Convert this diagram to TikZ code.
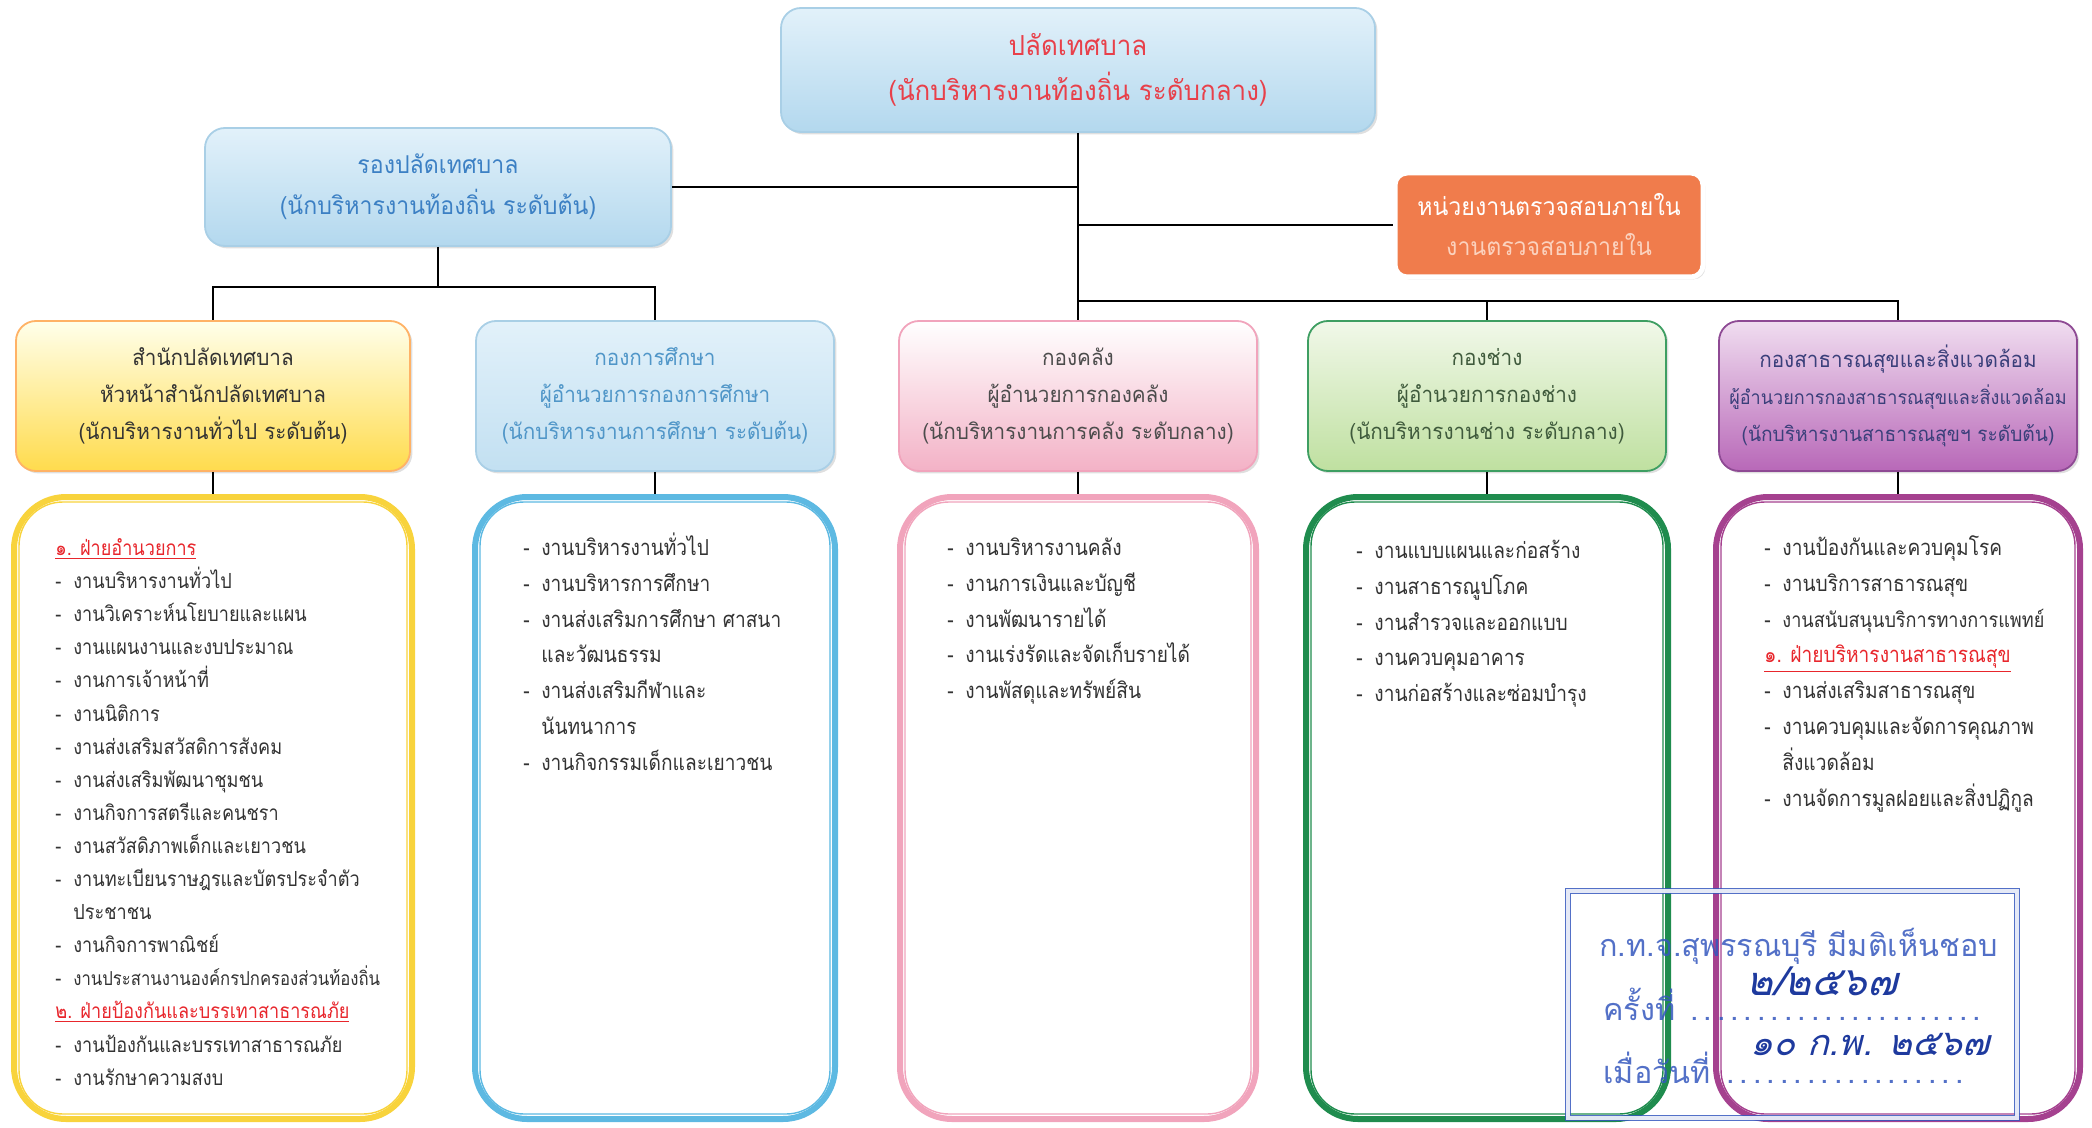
\documentclass[tikz,border=0pt]{standalone}
\usepackage{fontspec}
\usepackage{tikz}
\usetikzlibrary{positioning,shadows}
\newfontfamily\thaifont[Script=Thai,FakeStretch=0.94]{Loma}
\newfontfamily\listfont[Script=Thai,FakeStretch=0.87]{Loma}
\newfontfamily\stampfont[Script=Thai]{Loma}
\newfontfamily\handfont[Script=Thai,FakeSlant=0.25]{Loma}

\definecolor{chiefred}{HTML}{E8404A}
\definecolor{deputyblue}{HTML}{3C80C4}
\definecolor{skytop}{HTML}{E2F1FA}
\definecolor{skybot}{HTML}{B3D8EE}
\definecolor{skyline}{HTML}{A9CFE6}
\definecolor{auditorange}{HTML}{F07C4C}
\definecolor{auditsub}{HTML}{FBD2BE}
\definecolor{listgrey}{HTML}{333333}
\definecolor{headred}{HTML}{E8262C}
\definecolor{stampblue}{HTML}{3558BE}
\definecolor{inkblue}{HTML}{1E3A9E}
\definecolor{frameyellow}{HTML}{F8D33C}
\definecolor{frameblue}{HTML}{5DB9E2}
\definecolor{framepink}{HTML}{F1A4BC}
\definecolor{framegreen}{HTML}{1F8C4E}
\definecolor{framepurple}{HTML}{A5418F}
\definecolor{edublue}{HTML}{5096C8}
\definecolor{greentop}{HTML}{F1F8E9}
\definecolor{greenbot}{HTML}{BFE0A0}
\definecolor{greenline}{HTML}{3E9E62}
\definecolor{greentext}{HTML}{3F5A3C}
\definecolor{plumtop}{HTML}{F0DDF0}
\definecolor{plumbot}{HTML}{B868B8}
\definecolor{plumline}{HTML}{8E4A94}
\definecolor{plumtext}{HTML}{3A3F7A}

\def\dashw{9pt}
\newcommand\itm[1]{\makebox[\dashw][l]{-}#1}
\newcommand\contline[1]{\hspace*{\dashw}#1}
\newcommand\listhead[1]{\textcolor{headred}{\underline{#1}}}

\begin{document}
\begin{tikzpicture}[x=0.5pt, y=-0.5pt, line width=1.4pt, font=\thaifont]
        \tikzstyle{box}=[rectangle, rounded corners=10pt, align=center, inner sep=2pt, line width=0.9pt, drop shadow={opacity=0.25, shadow xshift=1.2pt, shadow yshift=-1.2pt}];
        \tikzstyle{boss}=[box, top color=skytop, bottom color=skybot, draw=skyline];
        \tikzstyle{division}=[box, minimum width=179pt, minimum height=75pt, font=\thaifont\fontsize{11}{18.5}\selectfont];
        \tikzstyle{frame}=[rectangle, rounded corners=26pt, line width=3pt, minimum height=311pt, fill=white];
        \tikzstyle{tasks}=[align=left, anchor=north west, inner sep=0pt, text=listgrey, font=\listfont\fontsize{11}{17.9}\selectfont];
        \tikzstyle{stamp}=[anchor=west, inner sep=0pt, text=stampblue, text opacity=0.85, font=\stampfont\fontsize{15.3}{17}\selectfont];
        \tikzstyle{hand}=[inner sep=0pt, text=inkblue, font=\handfont\fontsize{20}{22}\selectfont];

        \useasboundingbox (0,0) rectangle (2092,1128);

        % top level
        \node[boss, minimum width=297pt, minimum height=62pt, text=chiefred, font=\thaifont\fontsize{13.8}{22.5}\selectfont] (chief) at (1078,70) {ปลัดเทศบาล\\(นักบริหารงานท้องถิ่น ระดับกลาง)};
        \node[boss, minimum width=233pt, minimum height=59pt, text=deputyblue, font=\thaifont\fontsize{12.3}{20.5}\selectfont] (deputy) at (438,187) {รองปลัดเทศบาล\\(นักบริหารงานท้องถิ่น ระดับต้น)};
        \node[box, rounded corners=6pt, fill=auditorange, draw=white, line width=2.5pt, minimum width=154pt, minimum height=52pt, text=white, font=\thaifont\fontsize{12.3}{20}\selectfont] (audit) at (1549,225) {หน่วยงานตรวจสอบภายใน\\\textcolor{auditsub}{งานตรวจสอบภายใน}};

        % divisions
        \node[division, minimum width=197pt, top color=yellow!8, bottom color=yellow!60!orange!70, draw=orange!60, text=listgrey] (div1) at (213,396) {สำนักปลัดเทศบาล\\หัวหน้าสำนักปลัดเทศบาล\\(นักบริหารงานทั่วไป ระดับต้น)};
        \node[division, top color=skytop, bottom color=skybot!80, draw=skyline, text=edublue] (div2) at (655,396) {กองการศึกษา\\ผู้อำนวยการกองการศึกษา\\(นักบริหารงานการศึกษา ระดับต้น)};
        \node[division, top color=white, bottom color=framepink!85, draw=framepink, text=black!70] (div3) at (1078,396) {กองคลัง\\ผู้อำนวยการกองคลัง\\(นักบริหารงานการคลัง ระดับกลาง)};
        \node[division, top color=greentop, bottom color=greenbot, draw=greenline, text=greentext] (div4) at (1487,396) {กองช่าง\\ผู้อำนวยการกองช่าง\\(นักบริหารงานช่าง ระดับกลาง)};
        \node[division, top color=plumtop, bottom color=plumbot, draw=plumline, text=plumtext] (div5) at (1898,396) {กองสาธารณสุขและสิ่งแวดล้อม\\{\fontsize{9.6}{18.5}\selectfont ผู้อำนวยการกองสาธารณสุขและสิ่งแวดล้อม}\\{\fontsize{10.2}{18.5}\selectfont (นักบริหารงานสาธารณสุขฯ ระดับต้น)}};

        % frames under the divisions
        \foreach \i/\x/\w/\c in {1/213/199/frameyellow, 2/655/180/frameblue, 3/1078/178/framepink, 4/1487/181/framegreen, 5/1898/182/framepurple}
        {
            \node[frame, draw=\c, minimum width=\w pt] (frame\i) at (\x,808) {};
            \draw[\c, line width=0.7pt, rounded corners=22pt] ([shift={(8,8)}]frame\i.north west) rectangle ([shift={(-8,-8)}]frame\i.south east);
        }

        % connectors
        \coordinate (bus) at (1078,301);
        \coordinate (dbus) at (438,287);
        \draw (chief.south) -- (div3.north);
        \draw (deputy.east) -- (deputy.east -| chief.south);
        \draw (audit.west) -- (audit.west -| chief.south);
        \draw (bus) -| (div4.north);
        \draw (bus) -| (div5.north);
        \draw (deputy.south) -- (dbus);
        \draw (dbus) -| (div1.north);
        \draw (dbus) -| (div2.north);
        \foreach \i in {1,...,5}
            \draw (div\i.south) -- (frame\i.north);

        % task lists
        \node[tasks, font=\listfont\fontsize{10.4}{16.55}\selectfont] (list1) at (54,531) {\strut\listhead{๑. ฝ่ายอำนวยการ}\\\itm{งานบริหารงานทั่วไป}\\\itm{งานวิเคราะห์นโยบายและแผน}\\\itm{งานแผนงานและงบประมาณ}\\\itm{งานการเจ้าหน้าที่}\\\itm{งานนิติการ}\\\itm{งานส่งเสริมสวัสดิการสังคม}\\\itm{งานส่งเสริมพัฒนาชุมชน}\\\itm{งานกิจการสตรีและคนชรา}\\\itm{งานสวัสดิภาพเด็กและเยาวชน}\\\itm{งานทะเบียนราษฎรและบัตรประจำตัว}\\\contline{ประชาชน}\\\itm{งานกิจการพาณิชย์}\\\itm{{\fontsize{9.6}{16.55}\selectfont งานประสานงานองค์กรปกครองส่วนท้องถิ่น}}\\\listhead{๒. ฝ่ายป้องกันและบรรเทาสาธารณภัย}\\\itm{งานป้องกันและบรรเทาสาธารณภัย}\\\itm{งานรักษาความสงบ}};
        \node[tasks] (list2) at (522,529) {\strut\itm{งานบริหารงานทั่วไป}\\\itm{งานบริหารการศึกษา}\\\itm{งานส่งเสริมการศึกษา ศาสนา}\\\contline{และวัฒนธรรม}\\\itm{งานส่งเสริมกีฬาและ}\\\contline{นันทนาการ}\\\itm{งานกิจกรรมเด็กและเยาวชน}};
        \node[tasks] (list3) at (946,529) {\strut\itm{งานบริหารงานคลัง}\\\itm{งานการเงินและบัญชี}\\\itm{งานพัฒนารายได้}\\\itm{งานเร่งรัดและจัดเก็บรายได้}\\\itm{งานพัสดุและทรัพย์สิน}};
        \node[tasks] (list4) at (1355,532) {\strut\itm{งานแบบแผนและก่อสร้าง}\\\itm{งานสาธารณูปโภค}\\\itm{งานสำรวจและออกแบบ}\\\itm{งานควบคุมอาคาร}\\\itm{งานก่อสร้างและซ่อมบำรุง}};
        \node[tasks] (list5) at (1763,529) {\strut\itm{งานป้องกันและควบคุมโรค}\\\itm{งานบริการสาธารณสุข}\\\itm{{\fontsize{10.4}{17.9}\selectfont งานสนับสนุนบริการทางการแพทย์}}\\\listhead{๑. ฝ่ายบริหารงานสาธารณสุข}\\\itm{งานส่งเสริมสาธารณสุข}\\\itm{งานควบคุมและจัดการคุณภาพ}\\\contline{สิ่งแวดล้อม}\\\itm{งานจัดการมูลฝอยและสิ่งปฏิกูล}};

        % approval stamp
        \draw[stampblue, draw opacity=0.85, line width=0.8pt, double=white, double distance=1.6pt] (1568,891) rectangle (2017,1118);
        \node[stamp] (stampA) at (1598,946) {ก.ท.จ.สุพรรณบุรี มีมติเห็นชอบ};
        \node[stamp] (stampB) at (1602,1004) {ครั้งที่ \makebox[150pt]{\dotfill}};
        \node[stamp] (stampC) at (1602,1068) {เมื่อวันที่ \makebox[124pt]{\dotfill}};
        \node[hand] (noteB) at (1822,981) {๒/๒๕๖๗};
        \node[hand, font=\handfont\fontsize{18}{20}\selectfont] (noteC) at (1870,1045) {๑๐ ก.พ. ๒๕๖๗};
    \end{tikzpicture}
\end{document}
